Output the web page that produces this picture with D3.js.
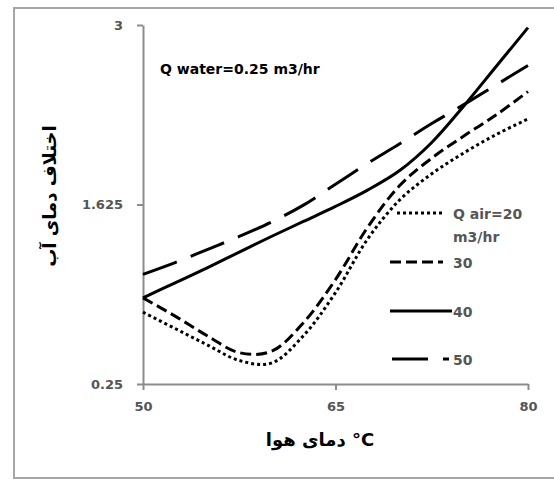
<!DOCTYPE html>
<html>
<head>
  <meta charset="utf-8">
  <script src="https://cdnjs.cloudflare.com/ajax/libs/d3/7.8.5/d3.min.js"></script>
  <style>
    body { margin: 0; background: #fff; }
    text { font-family: "DejaVu Sans", sans-serif; }
  </style>
</head>
<body>
  <svg id="chart" width="554" height="480"></svg>

  <script>
    // air temperature (°C)
    var temps = [50, 52.5, 55, 57.5, 60, 62.5, 65, 67.5, 70, 72.5, 75, 77.5, 80];
    // water temperature difference for each air flow
    var q20 = [0.80, 0.675, 0.55, 0.43, 0.41, 0.62, 0.95, 1.36, 1.66, 1.86, 2.02, 2.16, 2.28];
    var q30 = [0.91, 0.77, 0.62, 0.49, 0.50, 0.72, 1.05, 1.45, 1.77, 1.98, 2.15, 2.31, 2.49];
    var q40 = [0.91, 1.025, 1.14, 1.26, 1.38, 1.495, 1.61, 1.735, 1.885, 2.10, 2.38, 2.68, 2.98];
    var q50 = [1.09, 1.18, 1.28, 1.38, 1.49, 1.62, 1.78, 1.94, 2.09, 2.245, 2.39, 2.54, 2.69];

    var xTicks = [50, 65, 80];
    var yTicks = [0.25, 1.625, 3];
    var seriesNames = ["Q air=20", "30", "40", "50"];
    var dashes = ["3,3", "11,5", null, "36,15"];

    var svg = d3.select("#chart");

    // outer frame
    svg.append("rect")
      .attr("x", 14).attr("y", 8)
      .attr("width", 560).attr("height", 470)
      .attr("fill", "none")
      .attr("stroke", "#a6a6a6")
      .attr("stroke-width", 2);

    var x = d3.scaleLinear().domain([50, 80]).range([143, 528]);
    var y = d3.scaleLinear().domain([0.25, 3]).range([384, 25]);

    var yAxis = svg.append("g")
      .attr("transform", "translate(143,0)")
      .call(d3.axisLeft(y).tickValues(yTicks).tickSize(6).tickSizeOuter(0)
        .tickPadding(14).tickFormat(d => String(d)));

    var xAxis = svg.append("g")
      .attr("transform", "translate(0,384)")
      .call(d3.axisBottom(x).tickValues(xTicks).tickSize(6).tickSizeOuter(0)
        .tickPadding(12));

    [xAxis, yAxis].forEach(function (g) {
      g.selectAll("path, line").attr("stroke", "#8c8c8c").attr("stroke-width", 2);
      g.selectAll("text")
        .attr("fill", "#555")
        .style("font-size", "13px")
        .style("font-weight", "bold");
    });

    var line = d3.line()
      .x((d, i) => x(temps[i]))
      .y(d => y(d))
      .curve(d3.curveCatmullRom);

    var series = [q20, q30, q40, q50];
    series.forEach(function (s, i) {
      svg.append("path")
        .attr("d", line(s))
        .attr("fill", "none")
        .attr("stroke", "#000")
        .attr("stroke-width", 3)
        .attr("stroke-dasharray", dashes[i]);
    });

    // legend
    var legY = [213, 262, 311, 359];
    var legX0 = [397, 390, 390, 392];
    var legX1 = [443, 443, 452, 449];
    seriesNames.forEach(function (name, i) {
      svg.append("line")
        .attr("x1", legX0[i]).attr("x2", legX1[i])
        .attr("y1", legY[i]).attr("y2", legY[i])
        .attr("stroke", "#000")
        .attr("stroke-width", 3)
        .attr("stroke-dasharray", dashes[i]);
      svg.append("text")
        .attr("x", 453).attr("y", legY[i] + 6)
        .attr("fill", "#555")
        .style("font-size", "14px")
        .style("font-weight", "bold")
        .text(name);
    });
    svg.append("text")
      .attr("x", 453).attr("y", 242)
      .attr("fill", "#555")
      .style("font-size", "14px")
      .style("font-weight", "bold")
      .text("m3/hr");

    // title
    svg.append("text")
      .attr("x", 160).attr("y", 74)
      .attr("fill", "#000")
      .style("font-size", "14px")
      .style("font-weight", "bold")
      .text("Q water=0.25 m3/hr");

    // axis titles
    svg.append("text")
      .attr("x", 320).attr("y", 446)
      .attr("text-anchor", "middle")
      .attr("fill", "#000")
      .style("font-size", "18px")
      .style("font-weight", "bold")
      .text("دمای هوا °C");

    svg.append("text")
      .attr("transform", "translate(56,196) rotate(-90)")
      .attr("text-anchor", "middle")
      .attr("fill", "#000")
      .style("font-size", "18px")
      .style("font-weight", "bold")
      .text("اختلاف دمای آب");
  </script>
</body>
</html>
